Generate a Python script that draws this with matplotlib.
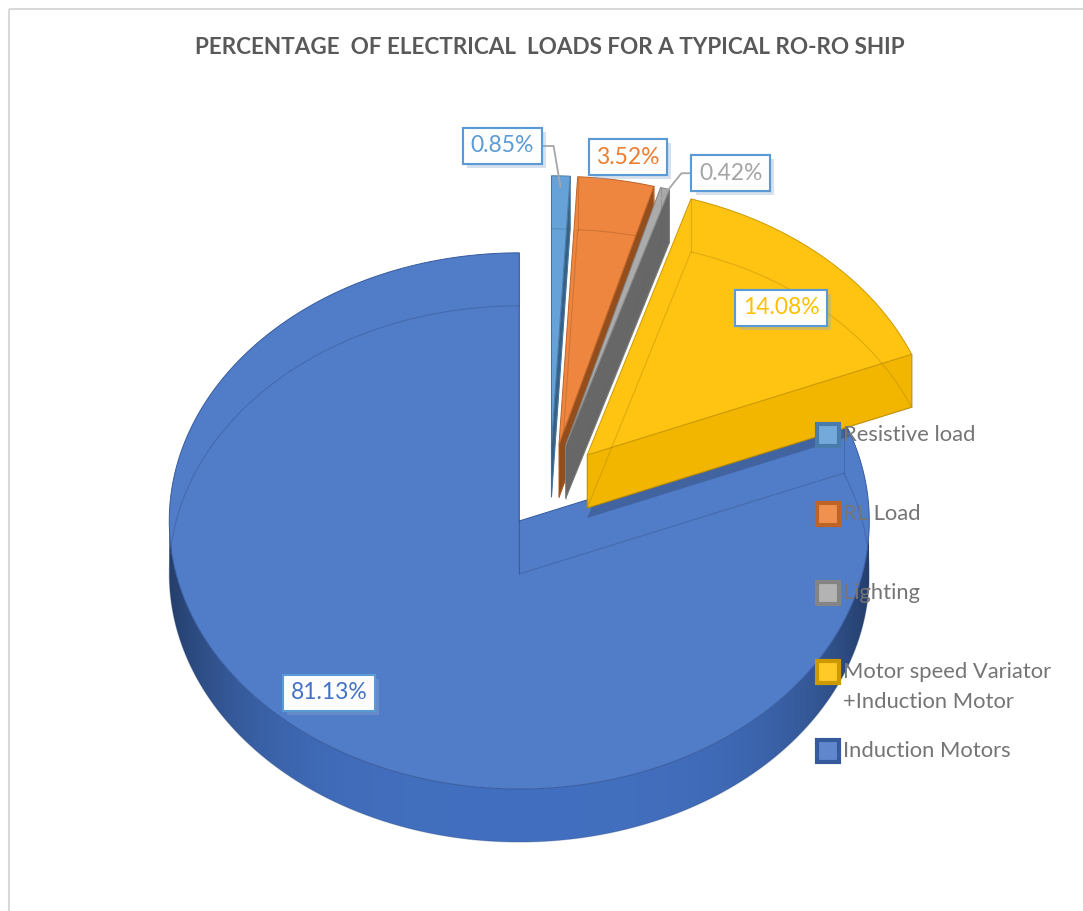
import numpy as np
import matplotlib.pyplot as plt
from matplotlib.patches import Polygon, Rectangle
from matplotlib.colors import to_rgb
import matplotlib.patheffects as pe

# Anteile der elektrischen Lasten (Prozent)
categories = ['Resistive load', 'RL Load', 'Lighting',
              'Motor speed Variator\n+Induction Motor', 'Induction Motors']
shares = [0.85, 3.52, 0.42, 14.08, 81.13]
colors = ['#5B9BD5', '#ED7D31', '#A5A5A5', '#FFC000', '#4472C4']
title = 'PERCENTAGE  OF ELECTRICAL  LOADS FOR A TYPICAL RO-RO SHIP'

# Geometrie des 3D-Kuchens (Pixel)
W, H = 1083, 911
cx, cy = 550, 486
R = 350
tilt = 0.766
depth = 53
explode = 55

# Lage der Beschriftungen: Winkel und Radiusanteil je Stueck
label_pos = [(-7.2, 1.12), (10.4, 1.09), (24.9, 1.12), (45.3, 0.78), (220.3, 0.84)]
leader_side = ['right', None, 'left', None, None]

FONT = 'Lato'
light = np.array([-0.3, -1.0])
light = light / np.linalg.norm(light)


def proj(base, ang, r, z=0.0):
    # ang in Grad, im Uhrzeigersinn ab 12 Uhr
    a = np.radians(ang)
    return (base[0] + r * np.sin(a), base[1] - r * np.cos(a) * tilt + z)


def shade(c, f):
    return tuple(np.clip(np.array(to_rgb(c)) * f, 0, 1))


def tint(c, f):
    c = np.array(to_rgb(c))
    return tuple(c + (1 - c) * f)


def wall_factor(n):
    return min(1.0, 0.62 + 0.42 * max(0.0, float(np.dot(n, light))))


fig = plt.figure(figsize=(W / 100, H / 100), dpi=100)
ax = fig.add_axes([0, 0, 1, 1])
ax.set_xlim(0, W)
ax.set_ylim(H, 0)
ax.axis('off')

# Rahmen des Diagrammbereichs
ax.add_patch(Rectangle((9, 9), W + 20, H + 20, fill=False, ec='#D9D9D9', lw=1.5))

bounds = np.concatenate([[0], np.cumsum(shares)]) / sum(shares) * 360
apexes = []
for i in range(len(shares)):
    mid = (bounds[i] + bounds[i + 1]) / 2
    apexes.append(proj((cx, cy), mid, explode))

# Zeichenreihenfolge: grosses Stueck zuerst, dann die hinteren
order = [4, 0, 1, 2, 3]
base_top = None
for i in order:
    t1, t2 = bounds[i], bounds[i + 1]
    c = colors[i]
    ap = apexes[i]
    n = max(3, int((t2 - t1) / 0.5) + 2)
    arc = np.linspace(t1, t2, n)

    # Schatten des herausgezogenen Stuecks auf dem grossen Stueck
    if base_top is not None:
        sh = [(ap[0], ap[1] + depth + 10)] + [proj(ap, a, R, depth + 10) for a in arc]
        sp = Polygon(sh, closed=True, fc='#1F2D4A', ec='none', alpha=0.3, zorder=1)
        ax.add_patch(sp)
        sp.set_clip_path(base_top)

    # Seitenwand (gekruemmt), nur der vordere Teil mit Farbverlauf
    front = arc[np.cos(np.radians(arc)) < 0]
    if len(front) > 1:
        wall = [proj(ap, a, R) for a in front] + [proj(ap, a, R, depth) for a in front[::-1]]
        wp = Polygon(wall, closed=True, fc='none', ec='none')
        ax.add_patch(wp)
        xs = np.linspace(-1, 1, 400)
        f = 0.97 - 0.42 * np.abs(xs) ** 4
        grad = np.array(to_rgb(c))[None, None, :] * f[None, :, None]
        ys = [p[1] for p in wall]
        im = ax.imshow(grad, extent=(ap[0] - R, ap[0] + R, max(ys), min(ys)),
                       aspect='auto', interpolation='bilinear', zorder=1)
        im.set_clip_path(wp)

    # Schnittflaechen
    r1, r2 = np.radians(t1), np.radians(t2)
    for ang, nrm in [(t1, np.array([-np.cos(r1), np.sin(r1)])),
                     (t2, np.array([np.cos(r2), -np.sin(r2)]))]:
        if nrm[1] >= -1e-6:
            continue
        col = shade(c, wall_factor(nrm))
        quad = [ap, proj(ap, ang, R), proj(ap, ang, R, depth), (ap[0], ap[1] + depth)]
        ax.add_patch(Polygon(quad, closed=True, fc=col, ec=shade(c, 0.8), lw=0.7, zorder=1))

    # Deckflaeche
    top = [ap] + [proj(ap, a, R) for a in arc]
    tp = Polygon(top, closed=True, fc=tint(c, 0.07), ec=shade(c, 0.8), lw=0.7, zorder=1)
    ax.add_patch(tp)
    if base_top is None:
        base_top = tp

    # durchscheinende Kanten der Unterseite
    bottom = [(ap[0], ap[1] + depth)] + [proj(ap, a, R, depth) for a in arc]
    ax.add_patch(Polygon(bottom, closed=True, fill=False, ec=shade(c, 0.6),
                         lw=0.8, alpha=0.3, zorder=1))
    for ang in (t1, t2):
        p = proj(ap, ang, R)
        ax.plot([p[0], p[0]], [p[1], p[1] + depth], color=shade(c, 0.6), lw=0.8, alpha=0.3, zorder=1)
    ax.plot([ap[0], ap[0]], [ap[1], ap[1] + depth], color=shade(c, 0.6), lw=0.8, alpha=0.3, zorder=1)

ax.set_xlim(0, W)
ax.set_ylim(H, 0)

# Datenbeschriftungen
labels = []
for i, v in enumerate(shares):
    ang, frac = label_pos[i]
    x, y = proj(apexes[i], ang, frac * R)
    t = ax.text(x, y, f'{v:.2f}%', ha='center', va='center', fontsize=16.5,
                family=FONT, color=colors[i], zorder=6,
                bbox=dict(boxstyle='square,pad=0.33', fc=(1, 1, 1, 0.9),
                          ec='#5B9BD5', lw=1.5))
    t.get_bbox_patch().set_path_effects([
        pe.withSimplePatchShadow(offset=(3, -3), shadow_rgbFace='#8FA9D0', alpha=0.35),
        pe.Normal()])
    labels.append(t)

fig.canvas.draw()
inv = ax.transData.inverted()
for i, side in enumerate(leader_side):
    if side is None:
        continue
    bb = labels[i].get_bbox_patch().get_window_extent().transformed(inv)
    x0, x1 = sorted([bb.x0, bb.x1])
    ly = (bb.y0 + bb.y1) / 2
    mid = (bounds[i] + bounds[i + 1]) / 2
    tip = proj(apexes[i], mid, 0.96 * R)
    if side == 'right':
        xs = [x1, x1 + 12, tip[0]]
    else:
        xs = [x0, x0 - 10, tip[0]]
    ax.plot(xs, [ly, ly, tip[1]], color='#A6A6A6', lw=1.3, zorder=5)

# Titel
ax.text(550, 47, title, ha='center', va='center', fontsize=16.2,
        fontweight='bold', family=FONT, color='#595959')

# Legende
leg_x, leg_y, leg_step = 817, 435, 79
for i, (lab, c) in enumerate(zip(categories, colors)):
    y = leg_y + i * leg_step
    ax.add_patch(Rectangle((leg_x, y - 11), 22, 22, fc=tint(c, 0.15),
                           ec=shade(c, 0.8), lw=3, zorder=7))
    for j, line in enumerate(lab.split('\n')):
        ax.text(leg_x + 26, y + j * 30, line, ha='left', va='center',
                fontsize=15.8, family=FONT, color='#757575', zorder=7)

plt.savefig('out.png', dpi=100)
